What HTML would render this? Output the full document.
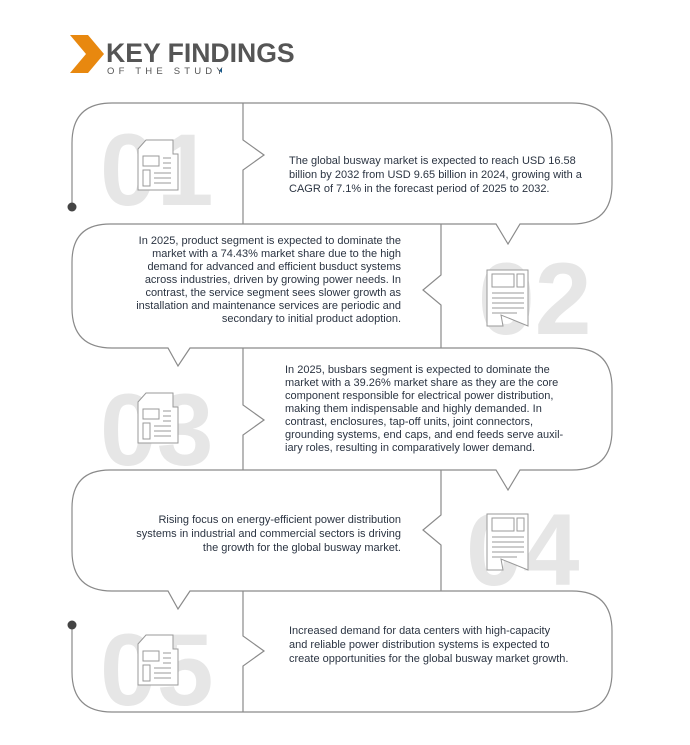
<!DOCTYPE html>
<html><head><meta charset="utf-8"><style>
body{margin:0;background:#fff;width:690px;height:745px;overflow:hidden}
svg{display:block}
.t{font-family:"Liberation Sans",sans-serif;font-size:11px;fill:#2b3442}
.n{font-family:"Liberation Sans",sans-serif;font-weight:bold;font-size:102px;fill:#e6e6e6}
</style></head><body>
<svg width="690" height="745" viewBox="0 0 690 745">
<polygon points="70,35 88,35 104,54 88,73 70,73 86,54" fill="#e8880f"/>
<text x="106" y="62" font-family="Liberation Sans,sans-serif" font-weight="bold" font-size="26.6" fill="#555">KEY FINDINGS</text>
<text x="107" y="74" font-family="Liberation Sans,sans-serif" font-size="9.5" fill="#555" letter-spacing="4.2">OF THE STUDY</text>
<polygon points="222,68 219,70.5 222,73" fill="#1b5a8a"/>

<text class="n" x="100" y="205">01</text>
<text class="n" x="478" y="334">02</text>
<text class="n" x="100" y="465">03</text>
<text class="n" x="466" y="585">04</text>
<text class="n" x="100" y="705">05</text>

<g fill="none" stroke="#8a8a8a" stroke-width="1.2">
<path d="M72,207 V143 Q72,103 112,103 H572 Q612,103 612,143 V184 Q612,224 572,224 H520 L508,244 L496,224 H110 Q72,224 72,262 V308 Q72,348 112,348 H168 L178,366 L190,348 H572 Q612,348 612,388 V430 Q612,470 572,470 H520 L508,490 L496,470 H110 Q72,470 72,508 V551 Q72,591 112,591 H168 L178,609 L190,591 H572 Q612,591 612,631 V672 Q612,712 572,712 H112 Q72,712 72,672 V625"/>
<path d="M243,103 V140 L264,155 L243,170 V224"/>
<path d="M441,224 V275 L423,290 L441,305 V348"/>
<path d="M243,348 V405 L264,420 L243,435 V470"/>
<path d="M441,470 V515 L423,530 L441,545 V591"/>
<path d="M243,591 V636 L264,651 L243,666 V712"/>
</g>
<circle cx="72" cy="207" r="4.5" fill="#444"/>
<circle cx="72" cy="625" r="4.5" fill="#444"/>

<g fill="#fff" stroke="#999" stroke-width="1">
<g transform="translate(138,140)"><path d="M8,0 H35 V14 H40 V50 H0 V9 Z"/><rect x="5" y="16" width="16" height="10"/><rect x="5" y="30" width="7" height="16"/><path d="M25,18 H33 M25,23 H33 M25,28 H33 M16,33 H33 M16,38 H33 M16,43 H33"/></g>
<g transform="translate(487,270)"><path d="M0,0 H41 V56 L14,45 L16,56 H0 Z"/><rect x="5" y="4" width="22" height="13"/><rect x="30" y="4" width="7" height="13"/><path d="M5,23 H37 M5,28 H37 M5,33 H37 M5,38 H37 M5,43 H30"/></g>
<g transform="translate(138,393)"><path d="M8,0 H35 V14 H40 V50 H0 V9 Z"/><rect x="5" y="16" width="16" height="10"/><rect x="5" y="30" width="7" height="16"/><path d="M25,18 H33 M25,23 H33 M25,28 H33 M16,33 H33 M16,38 H33 M16,43 H33"/></g>
<g transform="translate(487,514)"><path d="M0,0 H41 V56 L14,45 L16,56 H0 Z"/><rect x="5" y="4" width="22" height="13"/><rect x="30" y="4" width="7" height="13"/><path d="M5,23 H37 M5,28 H37 M5,33 H37 M5,38 H37 M5,43 H30"/></g>
<g transform="translate(138,635)"><path d="M8,0 H35 V14 H40 V50 H0 V9 Z"/><rect x="5" y="16" width="16" height="10"/><rect x="5" y="30" width="7" height="16"/><path d="M25,18 H33 M25,23 H33 M25,28 H33 M16,33 H33 M16,38 H33 M16,43 H33"/></g>
</g>

<g class="t">
<text x="289" y="164">The global busway market is expected to reach USD 16.58</text>
<text x="289" y="178">billion by 2032 from USD 9.65 billion in 2024, growing with a</text>
<text x="289" y="192">CAGR of 7.1% in the forecast period of 2025 to 2032.</text>
</g>
<g class="t" text-anchor="end">
<text x="401" y="244">In 2025, product segment is expected to dominate the</text>
<text x="401" y="257">market with a 74.43% market share due to the high</text>
<text x="401" y="270">demand for advanced and efficient busduct systems</text>
<text x="401" y="283">across industries, driven by growing power needs. In</text>
<text x="401" y="296">contrast, the service segment sees slower growth as</text>
<text x="401" y="309">installation and maintenance services are periodic and</text>
<text x="401" y="322">secondary to initial product adoption.</text>
</g>
<g class="t">
<text x="285" y="373">In 2025, busbars segment is expected to dominate the</text>
<text x="285" y="386">market with a 39.26% market share as they are the core</text>
<text x="285" y="399">component responsible for electrical power distribution,</text>
<text x="285" y="412">making them indispensable and highly demanded. In</text>
<text x="285" y="425">contrast, enclosures, tap-off units, joint connectors,</text>
<text x="285" y="438">grounding systems, end caps, and end feeds serve auxil-</text>
<text x="285" y="451">iary roles, resulting in comparatively lower demand.</text>
</g>
<g class="t" text-anchor="end">
<text x="401" y="523">Rising focus on energy-efficient power distribution</text>
<text x="401" y="537">systems in industrial and commercial sectors is driving</text>
<text x="401" y="551">the growth for the global busway market.</text>
</g>
<g class="t">
<text x="289" y="634">Increased demand for data centers with high-capacity</text>
<text x="289" y="648">and reliable power distribution systems is expected to</text>
<text x="289" y="662">create opportunities for the global busway market growth.</text>
</g>
</svg>
</body></html>
